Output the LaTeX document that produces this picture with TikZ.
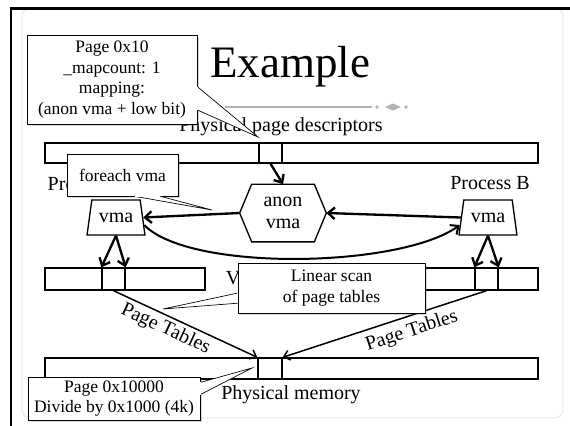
\documentclass[tikz,border=0pt]{standalone}
\usepackage{fontspec}
\setmainfont{Liberation Serif}
\usepackage{tikz}
\usetikzlibrary{shapes.geometric, arrows.meta, positioning, calc, shadows}
\tikzset{
  bar/.style={rectangle, draw, thick, fill=white, minimum height=12pt, inner sep=0pt},
  cell/.style={rectangle, draw, thick, fill=white, minimum width=13.8pt, minimum height=12pt, inner sep=0pt},
  vma/.style={trapezium, draw, thick, fill=white, trapezium left angle=74, trapezium right angle=74,
    trapezium stretches=true, minimum width=34.8pt, minimum height=21pt, inner sep=1pt, font=\fontsize{12}{14}\selectfont},
  txt/.style={font=\fontsize{12}{13.2}\selectfont, align=center},
  callout/.style={rectangle, draw, fill=white, align=center, inner sep=2pt, font=\fontsize{10.5}{12.4}\selectfont,
    drop shadow={opacity=0.3, shadow xshift=1.2pt, shadow yshift=-1.2pt}},
  pointer/.style={draw, fill=white},
  arrow/.style={-{Straight Barb[length=4pt, width=7pt]}, line width=1.4pt},
  ptarrow/.style={-{Straight Barb[length=3.5pt, width=6pt]}, line width=0.9pt},
}

\begin{document}
\begin{tikzpicture}[x=0.6pt, y=-0.6pt]
    \useasboundingbox (0,0) rectangle (570,426);
    \draw[gray!25, rounded corners=5pt] (22,8) rectangle (563,418);
    \draw[line width=1.8pt] (570,8) -| (11,426);

    \node[font=\fontsize{27}{30}\selectfont, anchor=base] (title) at (290,77) {Example};
    \draw[gray!60, line width=0.9pt] (225,107) -- (372,107);
    \fill[gray!60] (377,107) circle (1.1pt) (406,107) circle (1.1pt);
    \fill[gray!60] (385,107) -- (393,103.5) -- (401,107) -- (393,110.5) -- cycle;

    \node[txt] (pdtext) at (281,127) {Physical page descriptors};
    \node[bar, minimum width=295.8pt] (pdbar) at (291.5,153) {};
    \node[cell] (pdcell) at (270.5,153) {};

    \node[txt] (procA) at (88,184) {Process A};
    \node[txt] (procB) at (490,183) {Process B};
    \node[vma] (vmaA) at (116,217.5) {vma};
    \node[vma] (vmaB) at (488,217.5) {vma};
    \node[txt, minimum width=51.6pt, minimum height=34.2pt, inner sep=0pt] (anon) at (283,213) {anon\\vma};
    \draw[thick] (anon.west) -- ($(anon.north west)+(12,0)$) -- ($(anon.north east)+(-12,0)$) -- (anon.east)
      -- ($(anon.south east)+(-12,0)$) -- ($(anon.south west)+(12,0)$) -- cycle;

    \draw[arrow] (pdcell.south) -- (anon.north);
    \draw[arrow] (anon.west) -- (vmaA.east);
    \draw[arrow] (vmaB.west) -- (anon.east);
    \draw[arrow, line width=1.2pt] (vmaA.-15) .. controls (190,272) and (400,268) .. (vmaB.-165);

    \node[txt, anchor=west] (vmtext) at (220,280) {Virtual memory};
    \node[bar, minimum width=96pt, minimum height=13.2pt] (vbarA) at (125,279) {};
    \node[cell, minimum height=13.2pt] (vcellA) at (113.5,279) {};
    \node[bar, minimum width=96pt, minimum height=13.2pt] (vbarB) at (458,279) {};
    \node[cell, minimum height=13.2pt] (vcellB) at (486.5,279) {};
    \draw[arrow] (vmaA.south) -- (vcellA.north west);
    \draw[arrow] (vmaA.south) -- (vcellA.north east);
    \draw[arrow] (vmaB.south) -- (vcellB.north west);
    \draw[arrow] (vmaB.south) -- (vcellB.north east);

    \node[bar, minimum width=295.8pt, minimum height=12.6pt] (pmbar) at (291.5,368.5) {};
    \node[cell, minimum width=14.4pt, minimum height=12.6pt] (pmcell) at (270,368.5) {};
    \node[txt] (pmtext) at (291,395) {Physical memory};
    \draw[ptarrow] (vcellA.south) -- node[txt, pos=0.4, sloped, below, inner sep=2pt] {Page Tables} (pmcell.north west);
    \draw[ptarrow] (vcellB.south) -- node[txt, pos=0.39, sloped, below] {Page Tables} (pmcell.north east);

    % callouts
    \node[callout, minimum width=102pt, minimum height=53.4pt] (pgnote) at (112,79.5)
      {Page 0x10\\\_mapcount: 1\\mapping:\\(anon vma + low bit)};
    \coordinate (pgtip) at (258,137);
    \coordinate (pgb1) at ($(pgnote.north east)!0.58!(pgnote.south east)$);
    \coordinate (pgb2) at ($(pgnote.north east)!0.84!(pgnote.south east)$);
    \filldraw[pointer] (pgb1) -- (pgtip) -- (pgb2);
    \draw[white, line width=0.8pt] (pgb1) -- (pgb2);

    \node[callout, minimum width=66.6pt, minimum height=25.2pt] (fenote) at (122.5,175) {foreach vma};
    \coordinate (fetip) at (212,210);
    \coordinate (feb1) at ($(fenote.south west)!0.61!(fenote.south east)$);
    \coordinate (feb2) at ($(fenote.south west)!0.84!(fenote.south east)$);
    \filldraw[pointer] (feb1) -- (fetip) -- (feb2);
    \draw[white, line width=0.8pt] (feb1) -- (feb2);

    \node[callout, minimum width=112.2pt, minimum height=30pt] (scnote) at (331.5,288) {Linear scan\\of page tables};
    \coordinate (sctip) at (163,309);
    \coordinate (scb1) at ($(scnote.north west)!0.6!(scnote.south west)$);
    \coordinate (scb2) at ($(scnote.north west)!0.8!(scnote.south west)$);
    \filldraw[pointer] (scb1) -- (sctip) -- (scb2);
    \draw[white, line width=0.8pt] (scb1) -- (scb2);

    \node[callout, minimum width=103.2pt, minimum height=23.4pt] (pmnote) at (114,398.5) {Page 0x10000\\Divide by 0x1000 (4k)};
    \coordinate (pmtip) at (252,368);
    \coordinate (pmb1) at ($(pmnote.north east)!0.13!(pmnote.south east)$);
    \coordinate (pmb2) at ($(pmnote.north east)!0.41!(pmnote.south east)$);
    \filldraw[pointer] (pmb1) -- (pmtip) -- (pmb2);
    \draw[white, line width=0.8pt] (pmb1) -- (pmb2);
  \end{tikzpicture}
\end{document}
